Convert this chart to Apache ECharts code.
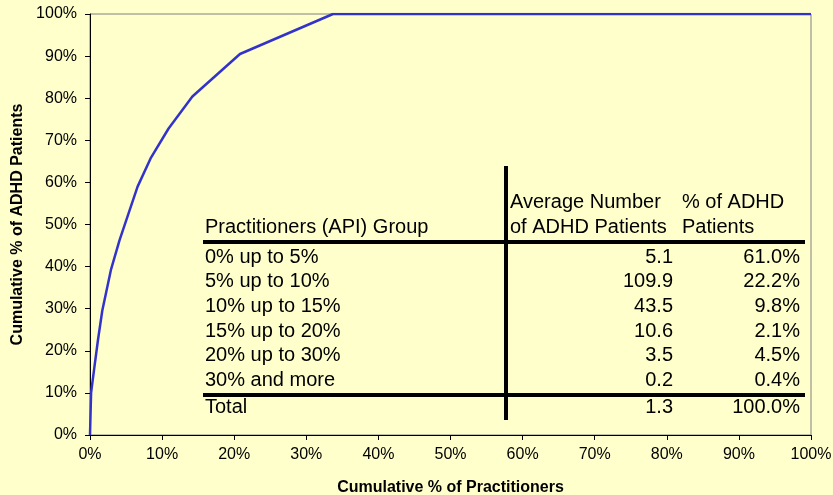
<!DOCTYPE html>
<html>
<head>
<meta charset="utf-8">
<script src="https://cdn.jsdelivr.net/npm/echarts@6/dist/echarts.min.js"></script>
<style>
  html, body { margin: 0; padding: 0; background: #ffffcc; }
  #chart { width: 833px; height: 495px; }
</style>
</head>
<body>
<div id="chart"></div>
<script>
// cumulative curve: [practitioners %, patients %]
const curve = [
  [0, 0], [0.15, 10], [0.6, 16], [1.1, 22.5], [1.7, 29.5], [2.9, 39.2],
  [4.1, 46.3], [5.5, 53.4], [6.6, 59], [8.4, 65.7], [10.9, 72.8],
  [14.2, 80.4], [20.8, 90.5], [33.7, 100], [100, 100]
]

// table overlaid on the plot
const groups = ['0% up to 5%', '5% up to 10%', '10% up to 15%', '15% up to 20%', '20% up to 30%', '30% and more']
const avgPatients = ['5.1', '109.9', '43.5', '10.6', '3.5', '0.2']
const pctPatients = ['61.0%', '22.2%', '9.8%', '2.1%', '4.5%', '0.4%']
const totalRow = ['Total', '1.3', '100.0%']

const font = 'Liberation Sans, Arial, sans-serif'
const chart = echarts.init(document.getElementById('chart'))

const txt = (x, y, s, align) => ({
  type: 'text', x, y, z: 10,
  style: { text: s, fill: '#000', font: '20px ' + font, align: align || 'left', verticalAlign: 'middle' }
})
const line = (x1, y1, x2, y2) => ({
  type: 'line', z: 10,
  shape: { x1, y1, x2, y2 },
  style: { stroke: '#000', lineWidth: 4 }
})

const g = []
g.push(txt(205, 227, 'Practitioners (API) Group'))
g.push(txt(510, 202, 'Average Number'))
g.push(txt(510, 227, 'of ADHD Patients'))
g.push(txt(682, 202, '% of ADHD'))
g.push(txt(682, 227, 'Patients'))
groups.forEach((s, i) => {
  const y = 257 + i * 24.7
  g.push(txt(205, y, s))
  g.push(txt(673, y, avgPatients[i], 'right'))
  g.push(txt(800, y, pctPatients[i], 'right'))
})
g.push(txt(205, 407, totalRow[0]))
g.push(txt(673, 407, totalRow[1], 'right'))
g.push(txt(800, 407, totalRow[2], 'right'))
g.push(line(203, 242, 805, 242))
g.push(line(203, 395, 805, 395))
g.push(line(506, 166, 506, 420))

chart.setOption({
  backgroundColor: '#ffffcc',
  animation: false,
  grid: {
    left: 90, right: 22, top: 14, bottom: 60,
    outerBoundsMode: 'none', containLabel: false,
    show: true, borderColor: '#808080', borderWidth: 1
  },
  xAxis: {
    type: 'value', min: 0, max: 100, interval: 10,
    name: 'Cumulative % of Practitioners', nameLocation: 'middle', nameGap: 45,
    nameTextStyle: { fontFamily: font, fontSize: 16, fontWeight: 'bold', color: '#000' },
    axisLine: { show: true, lineStyle: { color: '#000', width: 1 } },
    axisTick: { show: true, length: 5, lineStyle: { color: '#000' } },
    axisLabel: { formatter: '{value}%', fontFamily: font, fontSize: 16, color: '#000', margin: 12 },
    splitLine: { show: false }
  },
  yAxis: {
    type: 'value', min: 0, max: 100, interval: 10,
    name: 'Cumulative % of ADHD Patients', nameLocation: 'middle', nameGap: 63,
    nameTextStyle: { fontFamily: font, fontSize: 16, fontWeight: 'bold', color: '#000' },
    axisLine: { show: true, lineStyle: { color: '#000', width: 1 } },
    axisTick: { show: true, length: 5, lineStyle: { color: '#000' } },
    axisLabel: { formatter: '{value}%', fontFamily: font, fontSize: 16, color: '#000', margin: 13 },
    splitLine: { show: false }
  },
  series: [{
    type: 'line',
    data: curve,
    showSymbol: false,
    lineStyle: { color: '#3333cc', width: 2.5 },
    z: 5
  }],
  graphic: g
})
</script>
</body>
</html>
